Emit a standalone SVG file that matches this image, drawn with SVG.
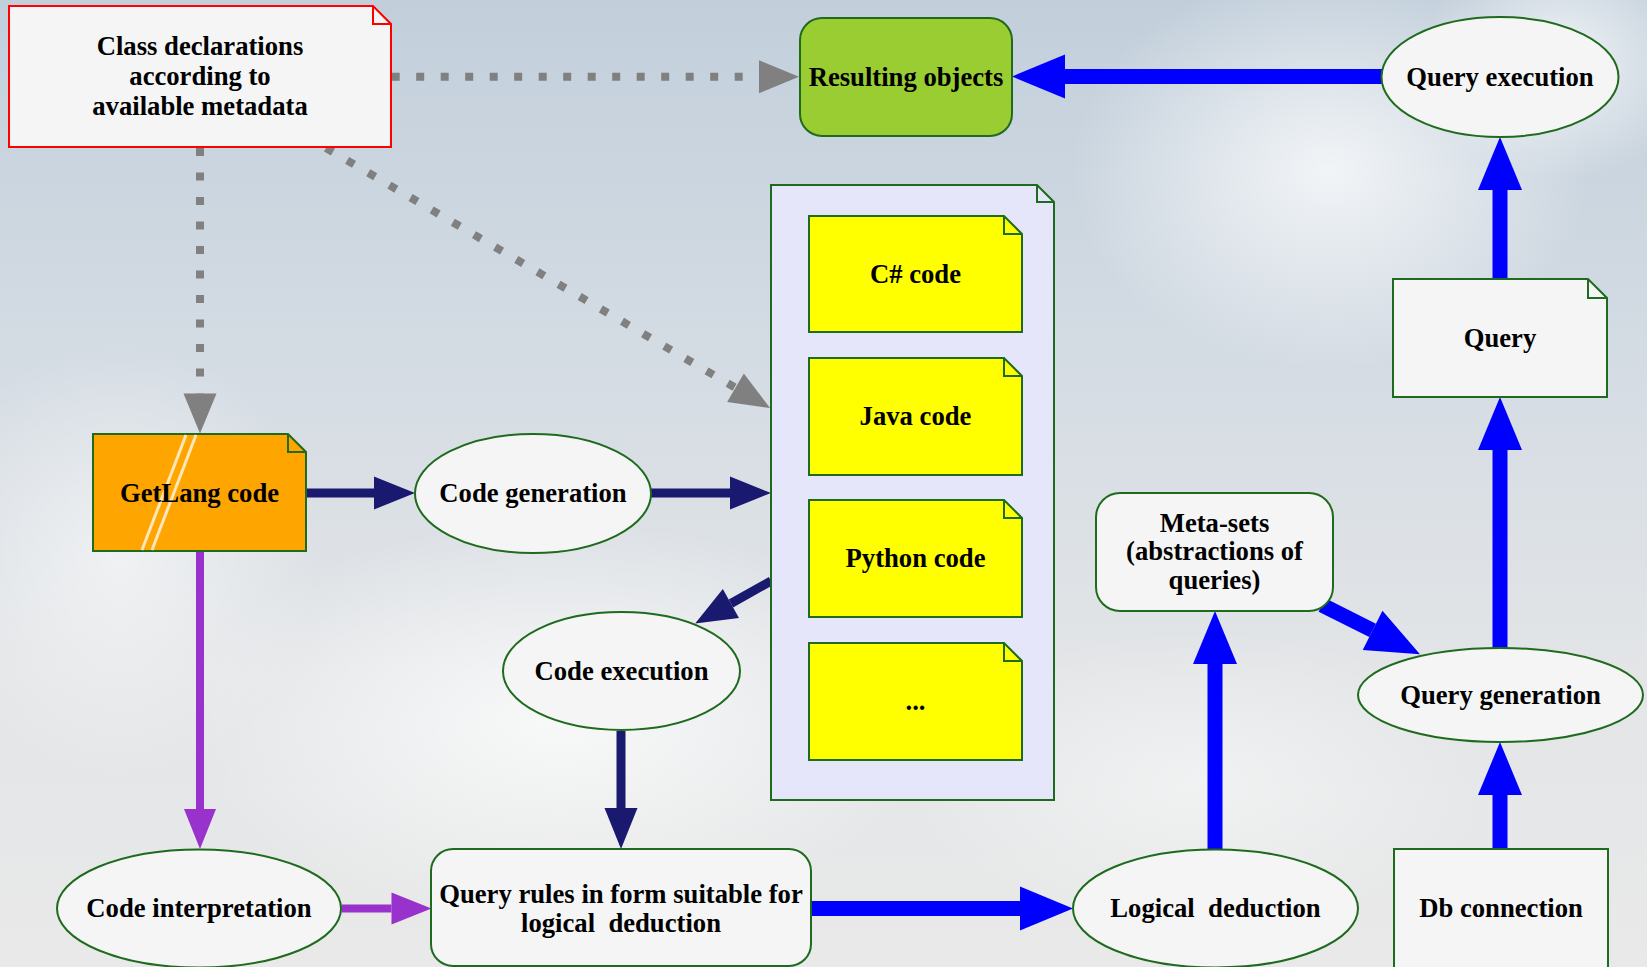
<svg xmlns="http://www.w3.org/2000/svg" width="1647" height="967" viewBox="0 0 1647 967">
<defs>
<linearGradient id="sky" x1="0" y1="0" x2="0" y2="1">
<stop offset="0" stop-color="#c2cfdb"/>
<stop offset="0.35" stop-color="#d3dbe3"/>
<stop offset="0.7" stop-color="#e3e5e7"/>
<stop offset="1" stop-color="#e9e9e9"/>
</linearGradient>
<radialGradient id="cloud">
<stop offset="0" stop-color="#ffffff" stop-opacity="0.75"/>
<stop offset="1" stop-color="#ffffff" stop-opacity="0"/>
</radialGradient>
<marker id="hBlue" markerUnits="userSpaceOnUse" markerWidth="53" markerHeight="44" refX="0" refY="22" orient="auto" overflow="visible"><path d="M0,0 L53,22 L0,44 z" fill="#0000ff"/></marker>
<marker id="hNavy" markerUnits="userSpaceOnUse" markerWidth="41" markerHeight="33" refX="0" refY="16.5" orient="auto" overflow="visible"><path d="M0,0 L41,16.5 L0,33 z" fill="#191970"/></marker>
<marker id="hPurple" markerUnits="userSpaceOnUse" markerWidth="40" markerHeight="32" refX="0" refY="16" orient="auto" overflow="visible"><path d="M0,0 L40,16 L0,32 z" fill="#9932cc"/></marker>
<marker id="hGray" markerUnits="userSpaceOnUse" markerWidth="40" markerHeight="33" refX="0" refY="16.5" orient="auto" overflow="visible"><path d="M0,0 L40,16.5 L0,33 z" fill="#808080"/></marker>
</defs>
<style>
.t{font-family:"Liberation Serif","Times New Roman",serif;font-weight:bold;font-size:26.67px;fill:#000;text-anchor:middle;white-space:pre}
.n{fill:#f5f5f5;stroke:#1e6b1e;stroke-width:2}
.y{fill:#ffff00;stroke:#1e6b1e;stroke-width:2}
.f{fill:none;stroke:#1e6b1e;stroke-width:2}
.blue{stroke:#0000ff;stroke-width:15;fill:none;marker-end:url(#hBlue)}
.navy{stroke:#191970;stroke-width:9;fill:none;marker-end:url(#hNavy)}
.purple{stroke:#9932cc;stroke-width:8;fill:none;marker-end:url(#hPurple)}
.gray{stroke:#808080;stroke-width:8;fill:none;stroke-dasharray:8 16.5;marker-end:url(#hGray)}
</style>
<rect x="0" y="0" width="1647" height="967" fill="url(#sky)"/>
<ellipse cx="1330" cy="170" rx="260" ry="200" fill="url(#cloud)"/>
<ellipse cx="1560" cy="60" rx="140" ry="120" fill="url(#cloud)"/>
<ellipse cx="560" cy="720" rx="380" ry="200" fill="url(#cloud)"/>
<ellipse cx="120" cy="560" rx="200" ry="220" fill="url(#cloud)" opacity="0.7"/>
<ellipse cx="1200" cy="780" rx="300" ry="150" fill="url(#cloud)" opacity="0.6"/>

<g id="connectors">
<line class="gray" x1="391.7" y1="76.7" x2="759" y2="76.7"/>
<line class="gray" x1="200" y1="148" x2="200" y2="393.5"/>
<line class="gray" x1="326" y1="148" x2="735.5" y2="387.8"/>
<line class="navy" x1="306" y1="493" x2="374" y2="493"/>
<line class="navy" x1="651" y1="493" x2="730" y2="493"/>
<line class="navy" x1="771" y1="581" x2="730.9" y2="603.5"/>
<line class="navy" x1="621" y1="731" x2="621" y2="808"/>
<line class="purple" x1="200" y1="551" x2="200" y2="809"/>
<line class="purple" x1="341.5" y1="908.5" x2="391.5" y2="908.5"/>
<line class="blue" x1="811" y1="908.5" x2="1020" y2="908.5"/>
<line class="blue" x1="1215" y1="849" x2="1215" y2="664"/>
<line class="blue" x1="1322" y1="605" x2="1372.6" y2="630.4"/>
<line class="blue" x1="1500" y1="849" x2="1500" y2="795"/>
<line class="blue" x1="1500" y1="648" x2="1500" y2="450"/>
<line class="blue" x1="1500" y1="279" x2="1500" y2="190"/>
<line class="blue" x1="1382" y1="76.5" x2="1065" y2="76.5"/>
</g>

<g id="class-declarations">
<path d="M9,6 H373 L391,24 V147 H9 Z" fill="#f5f5f5" stroke="#ff0000" stroke-width="2"/>
<path d="M373,6 V24 H391" fill="none" stroke="#ff0000" stroke-width="2"/>
<text class="t" x="200" y="55">Class declarations</text>
<text class="t" x="200" y="85">according to</text>
<text class="t" x="200" y="115">available metadata</text>
</g>

<g id="resulting-objects">
<rect x="800" y="18" width="212" height="118" rx="22" fill="#9acd32" stroke="#1e6b1e" stroke-width="2"/>
<text class="t" x="906" y="86">Resulting objects</text>
</g>

<g id="query-execution">
<ellipse class="n" cx="1500" cy="77" rx="118.5" ry="60"/>
<text class="t" x="1500" y="86">Query execution</text>
</g>

<g id="getlang-code">
<path d="M93,434 H288 L306,452 V551 H93 Z" fill="#ffa500" stroke="#1e6b1e" stroke-width="2"/>
<path d="M288,434 V452 H306" class="f"/>
<line x1="186" y1="435" x2="142" y2="550" stroke="#fff3dc" stroke-width="3" opacity="0.85"/>
<line x1="196" y1="435" x2="152" y2="550" stroke="#fff3dc" stroke-width="3" opacity="0.85"/>
<text class="t" x="199.5" y="501.5">GetLang code</text>
</g>

<g id="code-generation">
<ellipse class="n" cx="533" cy="493.5" rx="118" ry="59.5"/>
<text class="t" x="533" y="502">Code generation</text>
</g>

<g id="code-container">
<path d="M771,185 H1037 L1054,202 V800 H771 Z" fill="#e6e6fa" stroke="#1e6b1e" stroke-width="2"/>
<path d="M1037,185 V202 H1054" class="f"/>
</g>

<g id="csharp-code">
<path class="y" d="M809,216 H1004 L1022,234 V332 H809 Z"/>
<path d="M1004,216 V234 H1022" class="f"/>
<text class="t" x="915.5" y="283">C# code</text>
</g>

<g id="java-code">
<path class="y" d="M809,358 H1004 L1022,376 V475 H809 Z"/>
<path d="M1004,358 V376 H1022" class="f"/>
<text class="t" x="915.5" y="425">Java code</text>
</g>

<g id="python-code">
<path class="y" d="M809,500 H1004 L1022,518 V617 H809 Z"/>
<path d="M1004,500 V518 H1022" class="f"/>
<text class="t" x="915.5" y="567">Python code</text>
</g>

<g id="other-code">
<path class="y" d="M809,643 H1004 L1022,661 V760 H809 Z"/>
<path d="M1004,643 V661 H1022" class="f"/>
<text class="t" x="915.5" y="710">...</text>
</g>

<g id="code-execution">
<ellipse class="n" cx="621.5" cy="671" rx="118.5" ry="59"/>
<text class="t" x="621.5" y="680">Code execution</text>
</g>

<g id="code-interpretation">
<ellipse class="n" cx="199" cy="908.5" rx="142" ry="59"/>
<text class="t" x="199" y="917">Code interpretation</text>
</g>

<g id="query-rules">
<rect class="n" x="431" y="849" width="380" height="117" rx="22"/>
<text class="t" x="621" y="903">Query rules in form suitable for</text>
<text class="t" x="621" y="932">logical  deduction</text>
</g>

<g id="logical-deduction">
<ellipse class="n" cx="1215.5" cy="908.5" rx="142.5" ry="59"/>
<text class="t" x="1215.5" y="917">Logical  deduction</text>
</g>

<g id="meta-sets">
<rect class="n" x="1096" y="493" width="237" height="118" rx="24"/>
<text class="t" x="1214.5" y="531.5">Meta-sets</text>
<text class="t" x="1214.5" y="560">(abstractions of</text>
<text class="t" x="1214.5" y="588.5">queries)</text>
</g>

<g id="query-generation">
<ellipse class="n" cx="1500.5" cy="695" rx="142.5" ry="47"/>
<text class="t" x="1500.5" y="704">Query generation</text>
</g>

<g id="db-connection">
<rect class="n" x="1394" y="849" width="214" height="130"/>
<text class="t" x="1501" y="917">Db connection</text>
</g>

<g id="query">
<path class="n" d="M1393,279 H1588 L1607,298 V397 H1393 Z"/>
<path d="M1588,279 V298 H1607" class="f"/>
<text class="t" x="1500" y="347">Query</text>
</g>
</svg>
